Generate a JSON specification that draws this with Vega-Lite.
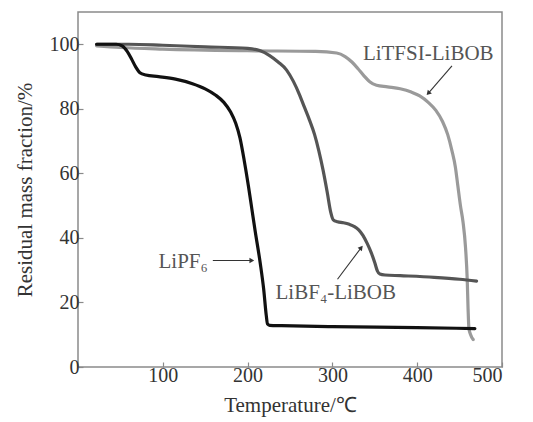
{
  "$schema": "https://vega.github.io/schema/vega-lite/v6.json",
  "width": 424,
  "height": 355,
  "autosize": {"type": "none"},
  "padding": {"left": 78, "top": 12, "right": 31, "bottom": 55},
  "background": "white",
  "config": {
    "view": {"stroke": "#8a8a8a", "strokeWidth": 1.5},
    "axis": {
      "labelFont": "Liberation Serif",
      "titleFont": "Liberation Serif",
      "labelFontSize": 20,
      "titleFontSize": 21,
      "labelColor": "#333",
      "titleColor": "#333",
      "titleFontWeight": "normal",
      "grid": false,
      "domain": false,
      "tickColor": "#8a8a8a",
      "tickWidth": 1.2,
      "tickSize": -5
    }
  },
  "datasets": {
    "curves": [
      {"s": "LiTFSI-LiBOB", "t": 22, "v": 99.5},
      {"s": "LiTFSI-LiBOB", "t": 50, "v": 99},
      {"s": "LiTFSI-LiBOB", "t": 100, "v": 98.5},
      {"s": "LiTFSI-LiBOB", "t": 200, "v": 98},
      {"s": "LiTFSI-LiBOB", "t": 280, "v": 97.8},
      {"s": "LiTFSI-LiBOB", "t": 305, "v": 97.3},
      {"s": "LiTFSI-LiBOB", "t": 315, "v": 96.2},
      {"s": "LiTFSI-LiBOB", "t": 323, "v": 94.5},
      {"s": "LiTFSI-LiBOB", "t": 330, "v": 92.5},
      {"s": "LiTFSI-LiBOB", "t": 337, "v": 90.3},
      {"s": "LiTFSI-LiBOB", "t": 344, "v": 88.4},
      {"s": "LiTFSI-LiBOB", "t": 352, "v": 87.3},
      {"s": "LiTFSI-LiBOB", "t": 365, "v": 86.8},
      {"s": "LiTFSI-LiBOB", "t": 380, "v": 86.2},
      {"s": "LiTFSI-LiBOB", "t": 393, "v": 85.2},
      {"s": "LiTFSI-LiBOB", "t": 403, "v": 84},
      {"s": "LiTFSI-LiBOB", "t": 413, "v": 82},
      {"s": "LiTFSI-LiBOB", "t": 422, "v": 79.5},
      {"s": "LiTFSI-LiBOB", "t": 430, "v": 76},
      {"s": "LiTFSI-LiBOB", "t": 436, "v": 72},
      {"s": "LiTFSI-LiBOB", "t": 441, "v": 67},
      {"s": "LiTFSI-LiBOB", "t": 445, "v": 62},
      {"s": "LiTFSI-LiBOB", "t": 448, "v": 56},
      {"s": "LiTFSI-LiBOB", "t": 451, "v": 50},
      {"s": "LiTFSI-LiBOB", "t": 454, "v": 45},
      {"s": "LiTFSI-LiBOB", "t": 457, "v": 37},
      {"s": "LiTFSI-LiBOB", "t": 459, "v": 27},
      {"s": "LiTFSI-LiBOB", "t": 460, "v": 18},
      {"s": "LiTFSI-LiBOB", "t": 461, "v": 12},
      {"s": "LiTFSI-LiBOB", "t": 463, "v": 10},
      {"s": "LiTFSI-LiBOB", "t": 466, "v": 8.5},
      {"s": "LiBF4-LiBOB", "t": 22, "v": 100},
      {"s": "LiBF4-LiBOB", "t": 60, "v": 100},
      {"s": "LiBF4-LiBOB", "t": 100, "v": 99.7},
      {"s": "LiBF4-LiBOB", "t": 150, "v": 99.2},
      {"s": "LiBF4-LiBOB", "t": 200, "v": 98.7},
      {"s": "LiBF4-LiBOB", "t": 215, "v": 98},
      {"s": "LiBF4-LiBOB", "t": 226, "v": 96.5},
      {"s": "LiBF4-LiBOB", "t": 236, "v": 94.5},
      {"s": "LiBF4-LiBOB", "t": 246, "v": 92},
      {"s": "LiBF4-LiBOB", "t": 254, "v": 88.5},
      {"s": "LiBF4-LiBOB", "t": 261, "v": 84.5},
      {"s": "LiBF4-LiBOB", "t": 267, "v": 80.5},
      {"s": "LiBF4-LiBOB", "t": 273, "v": 76.5},
      {"s": "LiBF4-LiBOB", "t": 279, "v": 72},
      {"s": "LiBF4-LiBOB", "t": 284, "v": 67},
      {"s": "LiBF4-LiBOB", "t": 289, "v": 61},
      {"s": "LiBF4-LiBOB", "t": 294, "v": 54},
      {"s": "LiBF4-LiBOB", "t": 298, "v": 48},
      {"s": "LiBF4-LiBOB", "t": 301, "v": 45.6},
      {"s": "LiBF4-LiBOB", "t": 306, "v": 45},
      {"s": "LiBF4-LiBOB", "t": 313, "v": 44.7},
      {"s": "LiBF4-LiBOB", "t": 320, "v": 44.2},
      {"s": "LiBF4-LiBOB", "t": 326, "v": 43.5},
      {"s": "LiBF4-LiBOB", "t": 331, "v": 42.5},
      {"s": "LiBF4-LiBOB", "t": 336, "v": 40.8},
      {"s": "LiBF4-LiBOB", "t": 341, "v": 38.3},
      {"s": "LiBF4-LiBOB", "t": 346, "v": 35.3},
      {"s": "LiBF4-LiBOB", "t": 350, "v": 32.3},
      {"s": "LiBF4-LiBOB", "t": 353, "v": 29.8},
      {"s": "LiBF4-LiBOB", "t": 356, "v": 28.8},
      {"s": "LiBF4-LiBOB", "t": 362, "v": 28.5},
      {"s": "LiBF4-LiBOB", "t": 380, "v": 28.3},
      {"s": "LiBF4-LiBOB", "t": 420, "v": 27.8},
      {"s": "LiBF4-LiBOB", "t": 450, "v": 27.2},
      {"s": "LiBF4-LiBOB", "t": 470, "v": 26.6},
      {"s": "LiPF6", "t": 22, "v": 100},
      {"s": "LiPF6", "t": 45, "v": 100},
      {"s": "LiPF6", "t": 52, "v": 99.5},
      {"s": "LiPF6", "t": 58, "v": 97.8},
      {"s": "LiPF6", "t": 63, "v": 95.5},
      {"s": "LiPF6", "t": 68, "v": 93},
      {"s": "LiPF6", "t": 73, "v": 91.2},
      {"s": "LiPF6", "t": 80, "v": 90.5},
      {"s": "LiPF6", "t": 95, "v": 90},
      {"s": "LiPF6", "t": 115, "v": 89.2},
      {"s": "LiPF6", "t": 135, "v": 87.8},
      {"s": "LiPF6", "t": 150, "v": 86.2},
      {"s": "LiPF6", "t": 162, "v": 84.3},
      {"s": "LiPF6", "t": 172, "v": 82},
      {"s": "LiPF6", "t": 180, "v": 79},
      {"s": "LiPF6", "t": 186, "v": 75.5},
      {"s": "LiPF6", "t": 191, "v": 71},
      {"s": "LiPF6", "t": 196, "v": 64},
      {"s": "LiPF6", "t": 201, "v": 56},
      {"s": "LiPF6", "t": 205, "v": 49},
      {"s": "LiPF6", "t": 209, "v": 42},
      {"s": "LiPF6", "t": 215, "v": 32},
      {"s": "LiPF6", "t": 219, "v": 24},
      {"s": "LiPF6", "t": 222, "v": 16},
      {"s": "LiPF6", "t": 223.5, "v": 13.3},
      {"s": "LiPF6", "t": 226, "v": 12.9},
      {"s": "LiPF6", "t": 240, "v": 12.8},
      {"s": "LiPF6", "t": 300, "v": 12.5},
      {"s": "LiPF6", "t": 400, "v": 12.2},
      {"s": "LiPF6", "t": 468, "v": 11.9}
    ],
    "labels": [
      {"txt": "LiTFSI-LiBOB", "t": 413, "v": 97},
      {"txt": "LiPF₆", "t": 124, "v": 32.5},
      {"txt": "LiBF₄-LiBOB", "t": 304, "v": 23}
    ],
    "arrows": [
      {"t": 441, "v": 93.3, "t2": 413, "v2": 84.8, "ang": 222, "shape": "triangle-up"},
      {"t": 159, "v": 33, "t2": 205, "v2": 33, "ang": 90, "shape": "triangle-up"},
      {"t": 306, "v": 27.2, "t2": 334, "v2": 37, "ang": 39, "shape": "triangle-up"}
    ]
  },
  "layer": [
    {
      "data": {"name": "curves"},
      "mark": {"type": "line", "interpolate": "monotone", "strokeWidth": 3.2, "strokeCap": "round", "strokeJoin": "round"},
      "encoding": {
        "x": {"field": "t", "type": "quantitative", "scale": {"domain": [0, 500], "nice": false},
          "axis": {"values": [100, 200, 300, 400, 500], "title": "Temperature/℃", "labelPadding": 3, "titlePadding": 9}},
        "y": {"field": "v", "type": "quantitative", "scale": {"domain": [0, 110], "nice": false},
          "axis": {"values": [0, 20, 40, 60, 80, 100], "title": "Residual mass fraction/%", "labelPadding": 4, "titlePadding": 14}},
        "color": {"field": "s", "type": "nominal",
          "scale": {"domain": ["LiTFSI-LiBOB", "LiBF4-LiBOB", "LiPF6"], "range": ["#9a9a9a", "#555555", "#111111"]},
          "legend": null},
        "order": {"field": "t", "type": "quantitative"}
      }
    },
    {
      "data": {"name": "arrows"},
      "mark": {"type": "rule", "color": "#333", "strokeWidth": 1.1},
      "encoding": {
        "x": {"field": "t", "type": "quantitative"},
        "y": {"field": "v", "type": "quantitative"},
        "x2": {"field": "t2"},
        "y2": {"field": "v2"}
      }
    },
    {
      "data": {"name": "arrows"},
      "mark": {"type": "point", "filled": true, "color": "#333", "size": 30, "opacity": 1},
      "encoding": {
        "x": {"field": "t2", "type": "quantitative"},
        "y": {"field": "v2", "type": "quantitative"},
        "angle": {"field": "ang", "type": "quantitative", "scale": null},
        "shape": {"field": "shape", "type": "nominal", "scale": null}
      }
    },
    {
      "data": {"name": "labels"},
      "mark": {"type": "text", "font": "Liberation Serif", "fontSize": 21, "color": "#555", "align": "center", "baseline": "middle"},
      "encoding": {
        "x": {"field": "t", "type": "quantitative"},
        "y": {"field": "v", "type": "quantitative"},
        "text": {"field": "txt", "type": "nominal"}
      }
    }
  ]
}
